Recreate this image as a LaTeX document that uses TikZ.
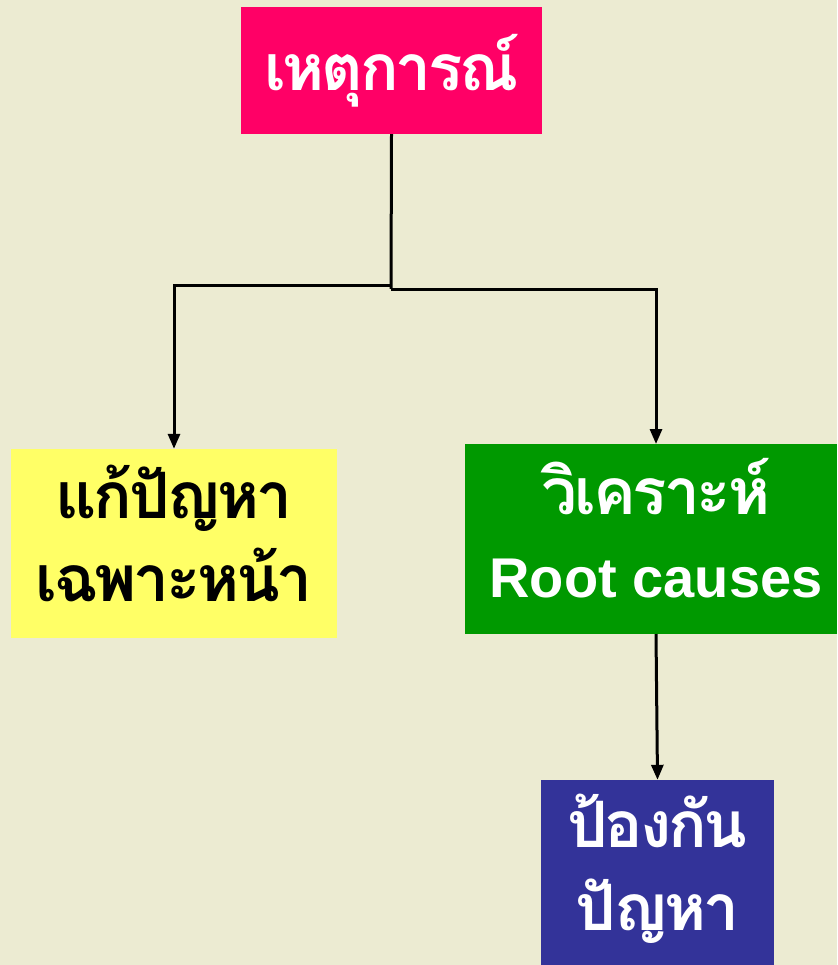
\documentclass[tikz,border=0pt]{standalone}
\usepackage{fontspec}
\newfontfamily\thaifont[Script=Thai,LetterSpace=-5]{Loma}
\newfontfamily\latinfont{Liberation Sans}
\usetikzlibrary{arrows.meta,calc}
\definecolor{bgc}{HTML}{ECEBD2}
\definecolor{pinkc}{HTML}{FF0066}
\definecolor{yellowc}{HTML}{FFFF66}
\definecolor{greenc}{HTML}{009900}
\definecolor{bluec}{HTML}{333399}
\tikzset{
  box/.style={rectangle, inner sep=0pt, align=center, font=\thaifont\bfseries\fontsize{64}{83}\selectfont},
  conn/.style={line width=3pt, black},
  arr/.style={conn, -{Triangle[length=15pt,width=12pt]}},
}
\begin{document}
\begin{tikzpicture}[x=1pt,y=-1pt]
\fill[bgc] (0,0) rectangle (837,965);
\useasboundingbox (0,0) rectangle (837,965);
\node[box, fill=pinkc, text=white, minimum width=301pt, minimum height=127pt] (top) at (391.5,70.5) {\raisebox{2pt}{เหตุการณ์}};
\node[box, fill=yellowc, text=black, minimum width=326pt, minimum height=189pt] (quick) at (174,543.5) {\raisebox{8pt}{\begin{tabular}{@{}c@{}}แก้ปัญหา\\เฉพาะหน้า\end{tabular}}};
\node[box, fill=greenc, text=white, minimum width=372pt, minimum height=190pt] (rca) at (651,539) {\hspace*{10pt}\raisebox{8pt}{\begin{tabular}{@{}c@{}}วิเคราะห์\\{\latinfont\bfseries\fontsize{56}{83}\selectfont Root causes}\end{tabular}}};
\node[box, fill=bluec, text=white, minimum width=233pt, minimum height=185pt] (prevent) at (657.5,872.5) {\raisebox{8pt}{\begin{tabular}{@{}c@{}}ป้องกัน\\ปัญหา\end{tabular}}};
\coordinate (jl) at (391,285);
\coordinate (jr) at (391,289);
\coordinate (gtop) at (656,444);
\coordinate (gbot) at (656,634);
\draw[conn] (top.south) -- (jr);
\draw[arr] (jl) -| (quick.north);
\draw[arr] (jr) -| (gtop);
\draw[arr] (gbot) -- (prevent.north);
\end{tikzpicture}
\end{document}
